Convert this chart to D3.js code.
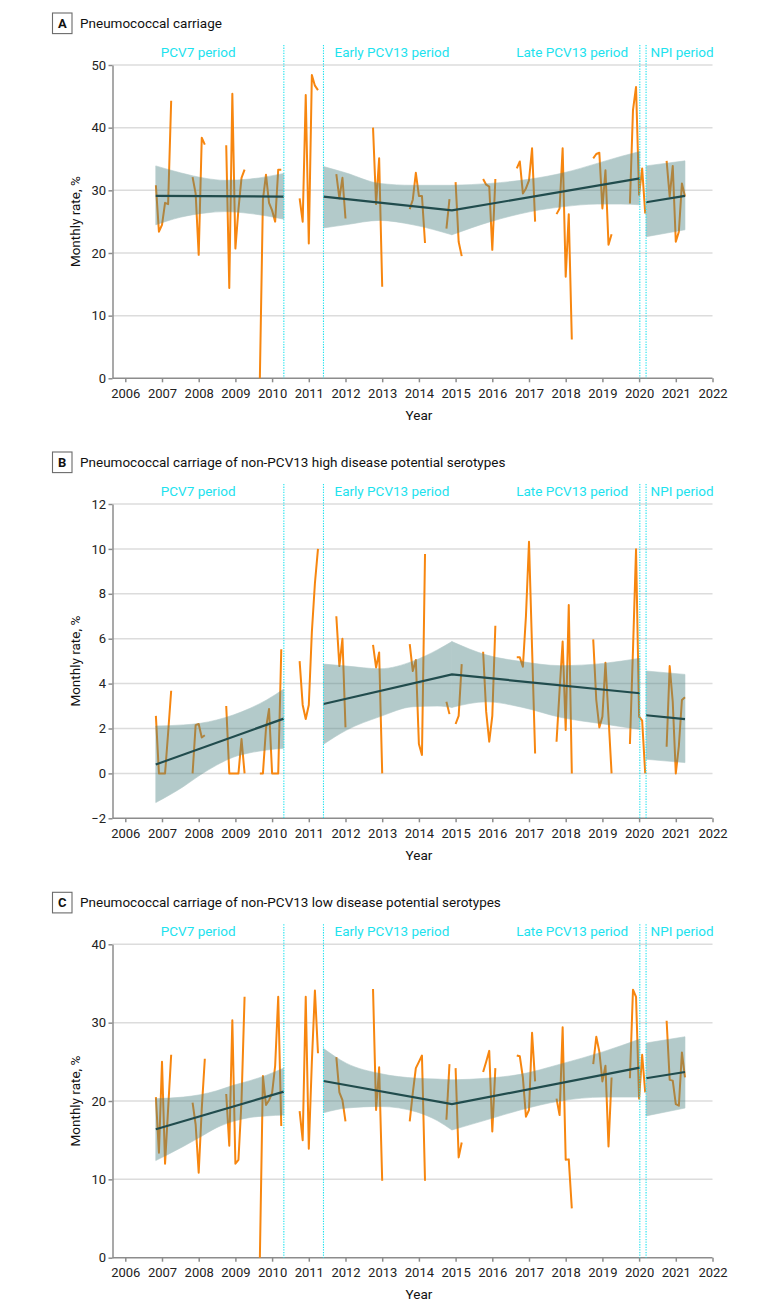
<!DOCTYPE html>
<html><head><meta charset="utf-8">
<script src="https://cdn.jsdelivr.net/npm/d3@7"></script>
<style>
body{margin:0;background:#fff}
svg{display:block}
text{font-family:Roboto,"Noto Sans",sans-serif}
</style>
</head><body><svg id="chart" width="780" height="1313"></svg>
<script>
// ---------- data ----------
const years = d3.range(2006, 2023);
const periodBreaks = [2010.32, 2011.40, 2020.02, 2020.19];
const periodLabels = ["PCV7 period", "Early PCV13 period", "Late PCV13 period", "NPI period"];
const panelLetters = ["A", "B", "C"];
const panelTitles = [
  "Pneumococcal carriage",
  "Pneumococcal carriage of non-PCV13 high disease potential serotypes",
  "Pneumococcal carriage of non-PCV13 low disease potential serotypes"
];
const yTicksA = [0, 10, 20, 30, 40, 50];
const yTicksB = [-2, 0, 2, 4, 6, 8, 10, 12];
const yTicksC = [0, 10, 20, 30, 40];

// monthly rates [month, %]
const seriesA = [
  ["2006-11",30.8],["2006-12",23.4],["2007-01",24.5],["2007-02",28.0],["2007-03",27.8],["2007-04",44.3],
  ["2007-11",32.1],["2007-12",29.5],["2008-01",19.7],["2008-02",38.4],["2008-03",37.3],
  ["2008-10",37.2],["2008-11",14.4],["2008-12",45.4],["2009-01",20.7],["2009-02",27.0],["2009-03",32.0],["2009-04",33.3],
  ["2009-09",0],["2009-10",28.5],["2009-11",32.5],["2009-12",28.0],["2010-01",26.8],["2010-02",25.0],["2010-03",33.3],["2010-04",33.3],
  ["2010-10",28.7],["2010-11",25.0],["2010-12",45.2],["2011-01",21.5],["2011-02",48.4],["2011-03",46.7],["2011-04",46.0],
  ["2011-10",32.6],["2011-11",28.7],["2011-12",32.0],["2012-01",25.5],
  ["2012-10",40.0],["2012-11",27.8],["2012-12",35.1],["2013-01",14.6],
  ["2013-10",27.0],["2013-11",28.5],["2013-12",32.8],["2014-01",29.1],["2014-02",29.1],["2014-03",21.6],
  ["2014-10",23.9],["2014-11",28.6],["2015-01",31.3],["2015-02",21.8],["2015-03",19.5],
  ["2015-10",31.8],["2015-11",30.9],["2015-12",30.6],["2016-01",20.5],["2016-02",31.8],
  ["2016-09",33.5],["2016-10",34.6],["2016-11",29.5],["2016-12",30.3],["2017-01",31.6],["2017-02",36.7],["2017-03",25.0],
  ["2017-10",26.2],["2017-11",27.1],["2017-12",36.7],["2018-01",16.2],["2018-02",26.2],["2018-03",6.2],
  ["2018-10",35.1],["2018-11",35.8],["2018-12",36.0],["2019-01",27.1],["2019-02",33.2],["2019-03",21.3],["2019-04",23.0],
  ["2019-10",27.9],["2019-11",42.8],["2019-12",46.5],["2020-01",29.3],["2020-02",33.5],["2020-03",26.3],
  ["2020-10",34.7],["2020-11",29.0],["2020-12",33.9],["2021-01",21.8],["2021-02",23.4],["2021-03",31.1],["2021-04",29.0]
];
const seriesB = [
  ["2006-11",2.56],["2006-12",0],["2007-01",0],["2007-02",0],["2007-03",1.8],["2007-04",3.68],
  ["2007-11",0],["2007-12",2.15],["2008-01",2.2],["2008-02",1.6],["2008-03",1.7],
  ["2008-10",3.0],["2008-11",0],["2008-12",0],["2009-01",0],["2009-02",0],["2009-03",1.53],["2009-04",0],
  ["2009-09",0],["2009-10",0],["2009-11",2.0],["2009-12",2.87],["2010-01",0],["2010-02",0],["2010-03",0],["2010-04",5.53],
  ["2010-10",5.0],["2010-11",3.05],["2010-12",2.42],["2011-01",3.05],["2011-02",6.3],["2011-03",8.47],["2011-04",10.0],
  ["2011-10",7.0],["2011-11",4.78],["2011-12",6.0],["2012-01",2.05],
  ["2012-10",5.72],["2012-11",4.72],["2012-12",5.39],["2013-01",0],
  ["2013-10",5.76],["2013-11",4.56],["2013-12",5.05],["2014-01",1.31],["2014-02",0.82],["2014-03",9.77],
  ["2014-10",3.19],["2014-11",2.64],["2015-01",2.2],["2015-02",2.56],["2015-03",4.87],
  ["2015-10",5.42],["2015-11",2.75],["2015-12",1.41],["2016-01",2.56],["2016-02",6.58],
  ["2016-09",5.17],["2016-10",5.17],["2016-11",4.75],["2016-12",7.0],["2017-01",10.32],["2017-02",5.6],["2017-03",0.89],
  ["2017-10",1.41],["2017-11",3.7],["2017-12",5.87],["2018-01",1.93],["2018-02",7.5],["2018-03",0],
  ["2018-10",5.97],["2018-11",3.27],["2018-12",2.05],["2019-01",2.53],["2019-02",4.93],["2019-03",2.5],["2019-04",0],
  ["2019-10",1.31],["2019-11",5.5],["2019-12",9.98],["2020-01",2.53],["2020-02",2.35],["2020-03",0],
  ["2020-10",1.19],["2020-11",4.78],["2020-12",3.19],["2021-01",0],["2021-02",1.22],["2021-03",3.27],["2021-04",3.39]
];
const seriesC = [
  ["2006-11",20.5],["2006-12",13.4],["2007-01",25.0],["2007-02",12.0],["2007-03",19.0],["2007-04",25.9],
  ["2007-11",19.8],["2007-12",17.0],["2008-01",10.85],["2008-02",19.0],["2008-03",25.4],
  ["2008-10",20.9],["2008-11",14.3],["2008-12",30.3],["2009-01",12.0],["2009-02",12.5],["2009-03",20.0],["2009-04",33.3],
  ["2009-09",0],["2009-10",23.2],["2009-11",19.5],["2009-12",20.1],["2010-01",21.0],["2010-02",24.5],["2010-03",33.3],["2010-04",16.8],
  ["2010-10",18.7],["2010-11",15.0],["2010-12",33.3],["2011-01",13.9],["2011-02",25.0],["2011-03",34.1],["2011-04",26.1],
  ["2011-10",25.6],["2011-11",21.1],["2011-12",20.1],["2012-01",17.4],
  ["2012-10",34.3],["2012-11",18.85],["2012-12",24.3],["2013-01",9.83],
  ["2013-10",17.4],["2013-11",21.0],["2013-12",24.2],["2014-01",25.0],["2014-02",25.8],["2014-03",9.83],
  ["2014-10",17.6],["2014-11",24.7],["2015-01",24.2],["2015-02",12.8],["2015-03",14.7],
  ["2015-10",23.7],["2015-11",25.0],["2015-12",26.4],["2016-01",16.1],["2016-02",24.2],
  ["2016-09",25.8],["2016-10",25.7],["2016-11",23.0],["2016-12",18.0],["2017-01",18.85],["2017-02",28.7],["2017-03",22.5],
  ["2017-10",20.3],["2017-11",18.2],["2017-12",29.4],["2018-01",12.5],["2018-02",12.55],["2018-03",6.3],
  ["2018-10",24.7],["2018-11",28.2],["2018-12",26.3],["2019-01",22.5],["2019-02",24.5],["2019-03",14.2],["2019-04",23.0],
  ["2019-10",22.9],["2019-11",34.2],["2019-12",33.3],["2020-01",20.3],["2020-02",25.9],["2020-03",21.1],
  ["2020-10",30.25],["2020-11",22.7],["2020-12",22.6],["2021-01",19.6],["2021-02",19.4],["2021-03",26.2],["2021-04",23.0]
];

// segmented regression fits [year, %]
const trendA = [[[2006.83,29.1],[2010.32,29.0]], [[2011.40,29.0],[2014.9,26.8],[2020.02,31.9]], [[2020.19,28.1],[2021.25,29.1]]];
const trendB = [[[2006.83,0.4],[2010.32,2.44]], [[2011.40,3.09],[2014.9,4.41],[2020.02,3.57]], [[2020.19,2.59],[2021.25,2.42]]];
const trendC = [[[2006.83,16.4],[2010.32,21.2]], [[2011.40,22.55],[2014.9,19.6],[2020.02,24.25]], [[2020.19,22.9],[2021.25,23.7]]];

// 95% CI bands [year, lower, upper]; each band is a list of pieces
const bandA = [
  [[[2006.83,24.5,33.9],[2007.5,25.7,32.8],[2008.2,26.4,31.9],[2008.7,26.6,31.6],[2009.4,26.3,31.8],[2010.32,25.4,32.7]]],
  [[[2011.40,24.0,33.8],[2012.0,24.5,32.8],[2012.93,25.2,31.1],[2013.84,24.5,30.8],[2014.9,22.9,30.8]],
   [[2014.9,22.9,30.8],[2015.95,25.0,31.1],[2017.04,26.6,31.8],[2017.95,27.4,32.8],[2018.86,27.8,34.3],[2019.5,27.8,35.4],[2020.02,27.7,36.2]]],
  [[[2020.19,22.6,33.9],[2021.25,23.7,34.7]]]
];
const bandB = [
  [[[2006.83,-1.3,2.11],[2007.58,-0.59,2.16],[2008.04,-0.07,2.23],[2008.49,0.37,2.38],[2008.94,0.72,2.6],[2009.4,0.92,2.9],[2009.85,1.04,3.27],[2010.32,1.12,3.76]]],
  [[[2011.40,1.3,4.87],[2012.03,1.93,4.78],[2012.94,2.53,4.66],[2013.84,2.97,5.0],[2014.5,3.0,5.5],[2014.9,2.94,5.87]],
   [[2014.9,2.94,5.87],[2015.85,3.19,5.27],[2016.8,2.95,4.98],[2017.85,2.5,4.8],[2019.03,2.2,4.9],[2020.02,1.96,5.13]]],
  [[[2020.19,0.63,4.56],[2021.25,0.48,4.41]]]
];
const bandC = [
  [[[2006.83,12.4,20.3],[2007.58,14.2,20.5],[2008.04,15.4,20.8],[2008.49,16.6,21.3],[2008.94,17.4,22.0],[2009.4,17.9,22.6],[2009.85,18.1,23.3],[2010.32,18.2,24.2]]],
  [[[2011.40,18.5,26.7],[2012.03,19.1,24.8],[2012.94,19.3,23.5],[2013.94,18.6,22.9],[2014.5,17.5,22.8],[2014.9,16.3,22.7]],
   [[2014.9,16.3,22.7],[2015.85,17.6,22.9],[2016.76,18.85,23.4],[2017.85,20.0,24.7],[2019.03,20.5,26.3],[2020.02,20.5,27.9]]],
  [[[2020.19,18.1,27.4],[2021.25,19.1,28.2]]]
];

// ---------- layout ----------
const layout = [
  {top:65,    bottom:378.3,  dom:[0,50],  ticks:yTicksA, series:seriesA, trend:trendA, band:bandA},
  {top:504,   bottom:818.3,  dom:[-2,12], ticks:yTicksB, series:seriesB, trend:trendB, band:bandB},
  {top:944.3, bottom:1257.7, dom:[0,40],  ticks:yTicksC, series:seriesC, trend:trendC, band:bandC}
];
const xLeft = 112.5;
const x = d3.scaleLinear().domain([2006, 2022]).range([125.3, 712.5]);
const ORANGE = "#F7860F", TREND = "#214C4D", BAND = "#4D8383", CYAN = "#1DE2EE", GRID = "#dcdcdc", AXIS = "#8c8c8c";

const monthToYear = s => { const [y, m] = s.split("-").map(Number); return y + (m - 1) / 12; };
function toSegments(series) {
  const segs = []; let cur = []; let prev = null;
  series.forEach(([m, v]) => {
    const [yy, mm] = m.split("-").map(Number); const idx = yy * 12 + mm;
    if (prev !== null && idx - prev > 1) { segs.push(cur); cur = []; }
    cur.push([monthToYear(m), v]); prev = idx;
  });
  if (cur.length) segs.push(cur);
  return segs;
}

const svg = d3.select("#chart");

layout.forEach((p, i) => {
  const y = d3.scaleLinear().domain(p.dom).range([p.bottom, p.top]);
  const g = svg.append("g");

  // title
  const ty = p.top - 41.7;
  g.append("rect").attr("x", 52.5).attr("y", ty - 10.3).attr("width", 19.5).attr("height", 20.6)
    .attr("fill", "#fff").attr("stroke", "#6b6b6b").attr("stroke-width", 1.1);
  g.append("text").attr("x", 62.25).attr("y", ty).attr("dy", "0.36em").attr("text-anchor", "middle")
    .attr("font-size", 13).attr("font-weight", 700).attr("fill", "#111").text(panelLetters[i]);
  g.append("text").attr("x", 80).attr("y", ty).attr("dy", "0.36em")
    .attr("font-size", 13.5).attr("fill", "#111").text(panelTitles[i]);

  // grid
  g.append("g").selectAll("line").data(p.ticks.filter(t => t !== p.dom[0])).join("line")
    .attr("x1", xLeft).attr("x2", x(2022)).attr("y1", d => y(d)).attr("y2", d => y(d))
    .attr("stroke", GRID).attr("stroke-width", 1.5);

  // y axis
  const ya = g.append("g").attr("transform", `translate(${xLeft},0)`)
    .call(d3.axisLeft(y).tickValues(p.ticks).tickSize(4).tickSizeOuter(0).tickPadding(2.5).tickFormat(d3.format("d")));
  ya.select(".domain").attr("stroke", AXIS).attr("stroke-width", 1.5);
  ya.selectAll(".tick line").attr("stroke", AXIS).attr("stroke-width", 1.5);
  ya.selectAll(".tick text").attr("font-size", 13).attr("fill", "#222").attr("font-family", "Roboto,sans-serif");

  // x axis
  const xa = g.append("g").attr("transform", `translate(0,${p.bottom})`)
    .call(d3.axisBottom(x).tickValues(years).tickSize(4).tickSizeOuter(0).tickPadding(6).tickFormat(d3.format("d")));
  xa.select(".domain").remove();
  xa.selectAll(".tick line").attr("stroke", AXIS).attr("stroke-width", 1.5);
  xa.selectAll(".tick text").attr("font-size", 13).attr("fill", "#222").attr("font-family", "Roboto,sans-serif");
  g.append("line").attr("x1", xLeft).attr("x2", x(2022)).attr("y1", p.bottom).attr("y2", p.bottom)
    .attr("stroke", AXIS).attr("stroke-width", 1.5);

  // axis titles
  g.append("text").attr("x", 419).attr("y", p.bottom + 36.5).attr("dy", "0.36em").attr("text-anchor", "middle")
    .attr("font-size", 13.5).attr("fill", "#111").text("Year");
  g.append("text").attr("transform", `translate(75,${(p.top + p.bottom) / 2}) rotate(-90)`)
    .attr("dy", "0.36em").attr("text-anchor", "middle").attr("font-size", 13.5).attr("fill", "#111").text("Monthly rate, %");

  // monthly observed series
  const line = d3.line().x(d => x(d[0])).y(d => y(d[1]));
  g.append("g").selectAll("path").data(toSegments(p.series)).join("path")
    .attr("d", line).attr("fill", "none").attr("stroke", ORANGE).attr("stroke-width", 2)
    .attr("stroke-linejoin", "round").attr("stroke-linecap", "butt");

  // CI bands
  const area = d3.area().curve(d3.curveMonotoneX).x(d => x(d[0])).y0(d => y(d[1])).y1(d => y(d[2]));
  const bg = g.append("g").attr("opacity", 0.42);
  p.band.forEach(pieces => {
    bg.selectAll(null).data(pieces).join("path").attr("d", area)
      .attr("fill", BAND).attr("stroke", BAND).attr("stroke-width", 0.6);
  });

  // trend lines
  g.append("g").selectAll("path").data(p.trend).join("path")
    .attr("d", line).attr("fill", "none").attr("stroke", TREND).attr("stroke-width", 2.2);

  // period break lines
  g.append("g").selectAll("line").data(periodBreaks).join("line")
    .attr("x1", d => x(d)).attr("x2", d => x(d)).attr("y1", p.top - 20).attr("y2", p.bottom)
    .attr("stroke", CYAN).attr("stroke-width", 1.1).attr("stroke-dasharray", "1.3,1.3");

  // period labels
  const ly = p.top - 12.7;
  const lab = [
    {x: (xLeft + x(periodBreaks[0])) / 2, a: "middle"},
    {x: x(periodBreaks[1]) + 11, a: "start"},
    {x: x(periodBreaks[2]) - 11.7, a: "end"},
    {x: x(periodBreaks[3]) + 4.5, a: "start"}
  ];
  g.append("g").selectAll("text").data(periodLabels).join("text")
    .attr("x", (d, k) => lab[k].x).attr("y", ly).attr("dy", "0.36em").attr("text-anchor", (d, k) => lab[k].a)
    .attr("font-size", 13.5).attr("fill", CYAN).text(d => d);
});
</script>
</body></html>
